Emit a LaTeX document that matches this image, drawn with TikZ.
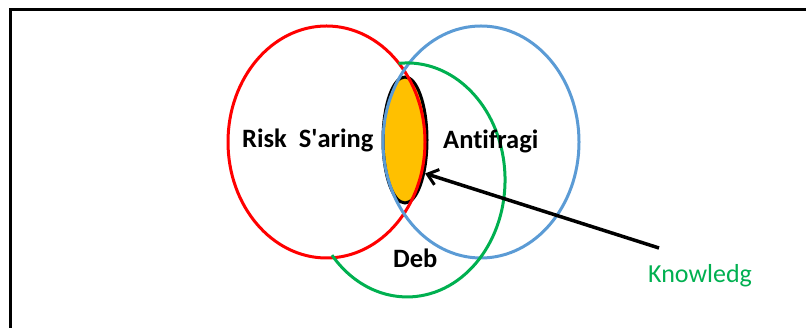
\documentclass[tikz,border=0pt]{standalone}
\usepackage{fontspec}
\setmainfont{Carlito}[Ligatures=NoCommon]
\usetikzlibrary{shapes.geometric,arrows.meta}
\definecolor{cred}{HTML}{FF0000}
\definecolor{cblue}{HTML}{5B9BD5}
\definecolor{cgreen}{HTML}{00B050}
\definecolor{corange}{HTML}{FFC000}
\begin{document}
\begin{tikzpicture}[x=1pt,y=1pt,
  ring/.style={ellipse, line width=3pt, inner sep=0pt, minimum width=#1},
  lbl/.style={anchor=base west, inner sep=0pt, font=\fontsize{26.5}{31}\selectfont\bfseries},
  klbl/.style={anchor=base west, inner sep=0pt, text=cgreen, font=\fontsize{26}{31}\selectfont},
  pointer/.style={line width=3.5pt, -{Straight Barb[length=10pt,width=16pt,line width=3pt]}}]
\useasboundingbox (0,0) rectangle (806,328);
\draw[line width=3pt] (10,0) -- (10,318) -- (806,318);
% lens
\node[ellipse, draw=black, fill=corange, line width=3pt, inner sep=0pt,
      minimum width=44, minimum height=126] (lens) at (405,188) {};
% circles
\node[ring=197, draw=cred, minimum height=232] (risk) at (326.5,186) {};
\node[ring=196, draw=cblue, minimum height=232] (anti) at (481,186) {};
\coordinate (gstart) at (398.5,264.6);
\draw[cgreen, line width=3pt] (gstart) arc[start angle=95, end angle=-140, x radius=98, y radius=117];
% labels
\node[lbl] (t1) at (242,180) {Risk\ \ S\textquotesingle aring};
\node[lbl] (t2) at (443,179) {Antifragi};
\node[lbl] (t3) at (393,60) {Deb};
\node[klbl] (t4) at (648,45) {Knowledg};
% arrow
\coordinate (tail) at (659,80);
\draw[pointer] (tail) -- (lens.-59);
\end{tikzpicture}
\end{document}
